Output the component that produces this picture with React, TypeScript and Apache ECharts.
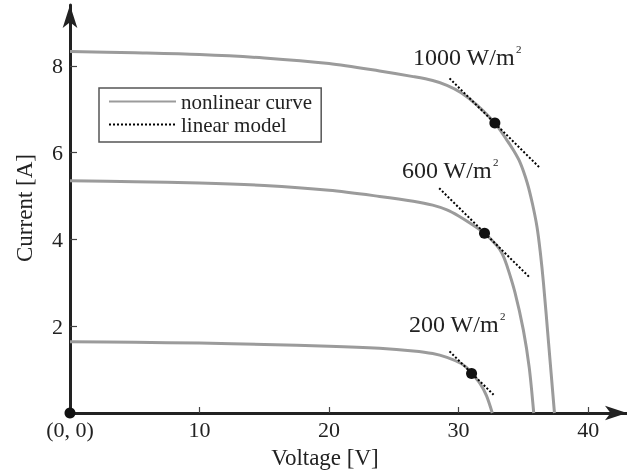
import React, { useEffect, useRef } from "react";
import * as echarts from "echarts";

const xTickValues = [0, 10, 20, 30, 40];
const yTickValues = [2, 4, 6, 8];

const curve1000 = [[0, 8.33], [5, 8.3], [10, 8.26], [15, 8.18], [20, 8.05], [23.9, 7.88], [26.5, 7.75], [28, 7.66], [29.1, 7.55], [30.2, 7.38], [31.4, 7.1], [32.8, 6.68], [33.7, 6.3], [34.2, 6.07], [34.75, 5.77], [35.3, 5.3], [35.7, 4.82], [36.05, 4.29], [36.3, 3.72], [36.55, 3.0], [36.95, 1.6], [37.4, 0]];
const curve600 = [[0, 5.35], [5, 5.33], [10, 5.3], [15, 5.24], [20, 5.13], [23.9, 4.99], [26.5, 4.88], [28, 4.79], [29.1, 4.68], [30.0, 4.54], [30.9, 4.37], [32.0, 4.14], [32.95, 3.86], [33.35, 3.68], [33.7, 3.42], [34.35, 2.78], [35.0, 1.91], [35.45, 1.05], [35.8, 0]];
const curve200 = [[0, 1.64], [5, 1.63], [10, 1.61], [15, 1.58], [20, 1.54], [23.9, 1.49], [26.5, 1.43], [28, 1.37], [29.1, 1.28], [30.2, 1.14], [30.6, 1.05], [31.0, 0.92], [31.65, 0.68], [32.15, 0.4], [32.6, 0]];

const tangent1000 = [[29.3, 7.71], [36.3, 5.64]];
const tangent600 = [[28.5, 5.18], [35.5, 3.12]];
const tangent200 = [[29.3, 1.42], [32.7, 0.42]];

const operatingPoints = [[32.8, 6.68], [32.0, 4.14], [31.0, 0.91], [0, 0]];

const FONT = "Liberation Serif";
const GREY = "#9b9b9b";
const DARK = "#222";

export default function App() {
  const ref = useRef<HTMLDivElement>(null);
  useEffect(() => {
    if (!ref.current) return;
    const chart = echarts.init(ref.current, null, { renderer: "svg" });
    const curveSeries = (data: number[][]) => ({
      type: "line",
      name: "nonlinear curve",
      data,
      smooth: 0.3,
      symbol: "none",
      lineStyle: { color: GREY, width: 3 },
      itemStyle: { color: GREY },
      z: 2,
    });
    const tangentSeries = (data: number[][]) => ({
      type: "line",
      name: "linear model",
      data,
      symbol: "none",
      lineStyle: { color: "#000", width: 2, type: [2, 2] },
      itemStyle: { color: "#000" },
      z: 3,
    });
    const label = (txt: string, x: number, y: number, supX: number) => [
      {
        type: "text",
        x,
        y,
        style: { text: txt, font: `24px "${FONT}"`, fill: DARK, align: "left", verticalAlign: "middle" },
      },
      {
        type: "text",
        x: supX,
        y: y - 8,
        style: { text: "2", font: `11px "${FONT}"`, fill: DARK, align: "left", verticalAlign: "middle" },
      },
    ];
    chart.setOption({
      animation: false,
      grid: { left: 70, right: 0, top: 5, bottom: 63 },
      xAxis: {
        type: "value",
        min: 0,
        max: 43,
        interval: 10,
        splitLine: { show: false },
        axisLine: { lineStyle: { color: DARK, width: 3 }, symbol: ["none", "arrow"], symbolSize: [11, 22] },
        axisTick: { inside: true, length: 6, lineStyle: { color: "#444", width: 1.2 }, customValues: [10, 20, 30, 40] },
        axisLabel: {
          customValues: xTickValues,
          formatter: (v: number) => (v === 0 ? "(0, 0)" : String(v)),
          fontFamily: FONT,
          fontSize: 22,
          color: DARK,
          margin: 5,
        },
      },
      yAxis: {
        type: "value",
        min: 0,
        max: 9.4,
        interval: 2,
        splitLine: { show: false },
        axisLine: { lineStyle: { color: DARK, width: 3 }, symbol: ["none", "arrow"], symbolSize: [11, 23] },
        axisTick: { inside: true, length: 7, lineStyle: { color: "#444", width: 1.2 }, customValues: yTickValues },
        axisLabel: { customValues: yTickValues, fontFamily: FONT, fontSize: 22, color: DARK, margin: 7 },
      },
      legend: {
        left: 99,
        top: 88,
        orient: "vertical",
        data: ["nonlinear curve", "linear model"],
        itemWidth: 67,
        itemHeight: 14,
        itemGap: 2,
        padding: [3, 9, 7, 9],
        borderColor: "#555",
        borderWidth: 1.5,
        borderRadius: 0,
        backgroundColor: "#fff",
        selectedMode: false,
        itemStyle: { opacity: 0 },
        textStyle: { fontFamily: FONT, fontSize: 21, color: DARK, lineHeight: 20 },
      },
      graphic: [
        ...label("1000 W/m", 413, 56.5, 516),
        ...label("600 W/m", 402, 170, 493),
        ...label("200 W/m", 409, 324, 500),
        {
          type: "text",
          x: 325,
          y: 457,
          style: { text: "Voltage [V]", font: `23px "${FONT}"`, fill: DARK, align: "center", verticalAlign: "middle" },
        },
        {
          type: "text",
          x: 24,
          y: 208,
          rotation: Math.PI / 2,
          style: { text: "Current [A]", font: `23px "${FONT}"`, fill: DARK, align: "center", verticalAlign: "middle" },
        },
      ],
      series: [
        curveSeries(curve1000),
        curveSeries(curve600),
        curveSeries(curve200),
        tangentSeries(tangent1000),
        tangentSeries(tangent600),
        tangentSeries(tangent200),
        {
          type: "scatter",
          name: "points",
          data: operatingPoints,
          symbol: "circle",
          symbolSize: 11,
          itemStyle: { color: "#111", opacity: 1 },
          clip: false,
          z: 10,
        },
      ],
    });
    return () => chart.dispose();
  }, []);
  return <div ref={ref} style={{ position: "fixed", left: 0, top: 0, width: 627, height: 476 }} />;
}
